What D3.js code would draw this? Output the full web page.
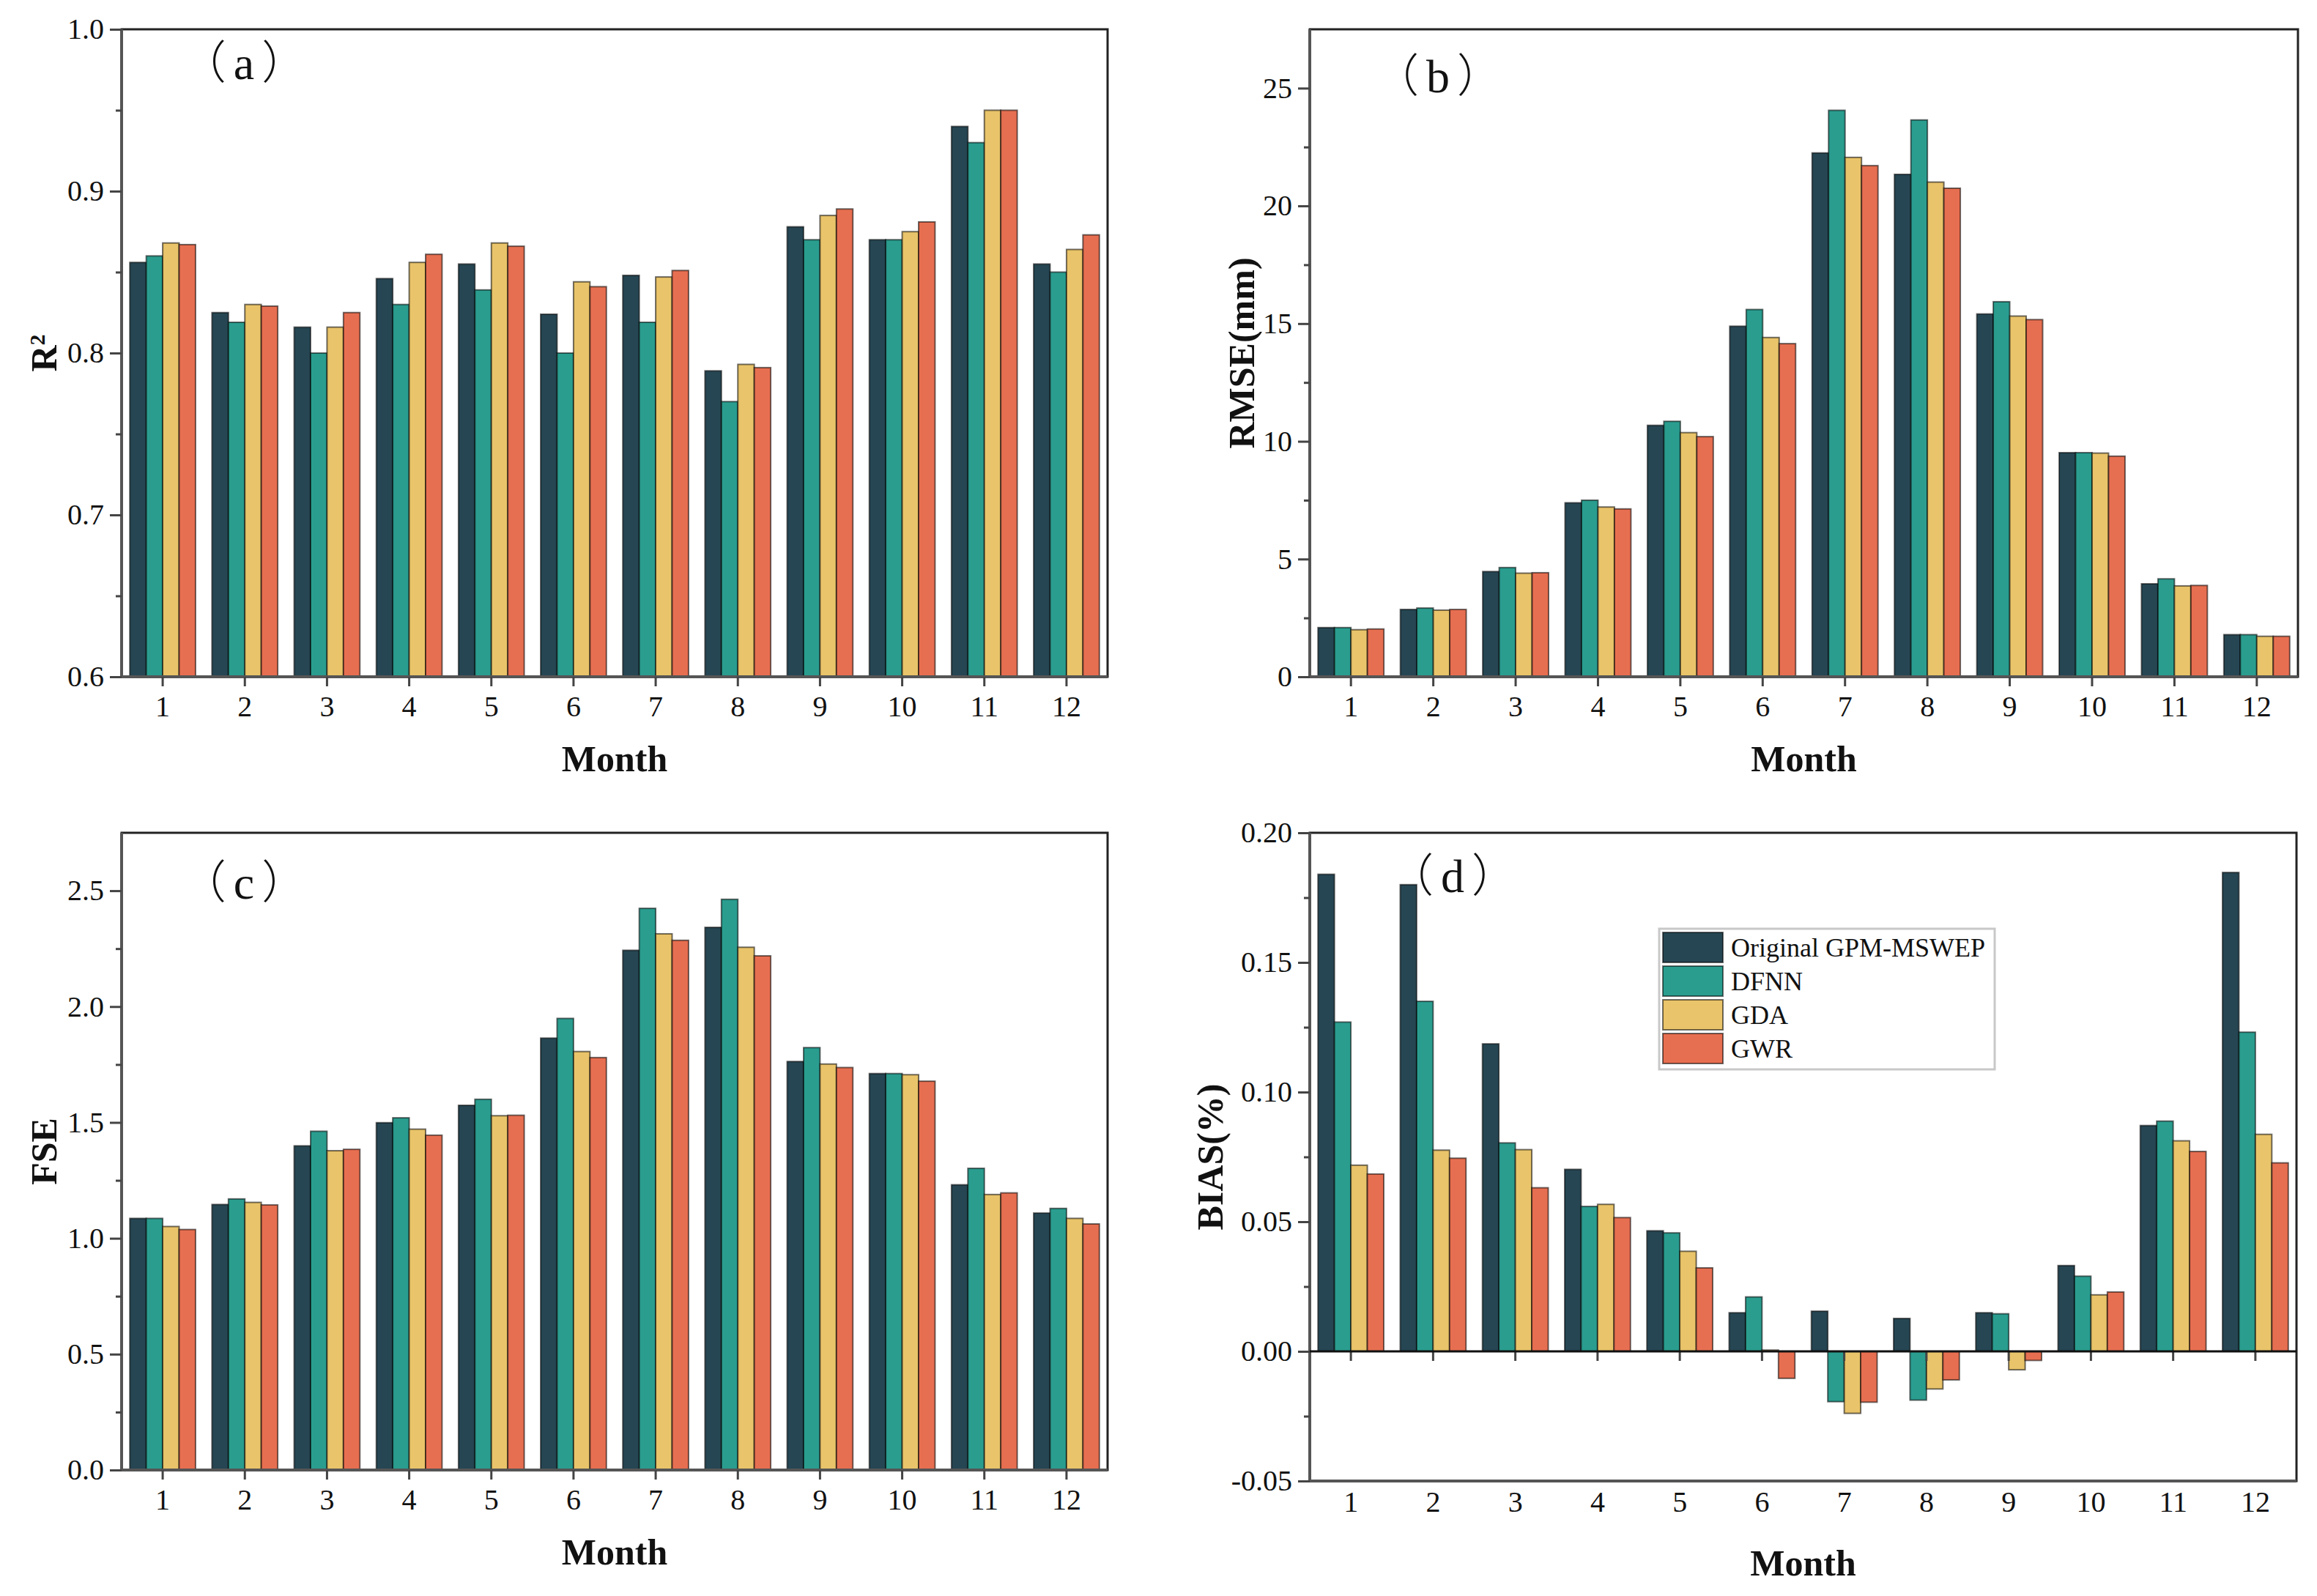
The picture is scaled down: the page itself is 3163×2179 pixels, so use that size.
<!DOCTYPE html>
<html>
<head>
<meta charset="utf-8">
<script src="https://cdn.jsdelivr.net/npm/d3@7"></script>
<style>
  html, body { margin: 0; padding: 0; background: #fff; }
  svg text { font-family: "Liberation Serif", "Times New Roman", serif; fill: #111; }
</style>
</head>
<body>
<svg id="chart" width="3163" height="2179"></svg>
<script>
// 月
var months = ["1", "2", "3", "4", "5", "6", "7", "8", "9", "10", "11", "12"];
var seriesNames = ["Original GPM-MSWEP", "DFNN", "GDA", "GWR"];

// (a) R2
var r2Orig = [0.856, 0.825, 0.816, 0.846, 0.855, 0.824, 0.848, 0.789, 0.878, 0.870, 0.940, 0.855];
var r2Dfnn = [0.860, 0.819, 0.800, 0.830, 0.839, 0.800, 0.819, 0.770, 0.870, 0.870, 0.930, 0.850];
var r2Gda  = [0.868, 0.830, 0.816, 0.856, 0.868, 0.844, 0.847, 0.793, 0.885, 0.875, 0.950, 0.864];
var r2Gwr  = [0.867, 0.829, 0.825, 0.861, 0.866, 0.841, 0.851, 0.791, 0.889, 0.881, 0.950, 0.873];

// (b) RMSE(mm)
var rmseOrig = [2.09, 2.86, 4.47, 7.39, 10.68, 14.89, 22.25, 21.34, 15.41, 9.52, 3.95, 1.79];
var rmseDfnn = [2.09, 2.92, 4.64, 7.50, 10.85, 15.60, 24.06, 23.65, 15.93, 9.52, 4.16, 1.79];
var rmseGda  = [2.00, 2.83, 4.40, 7.21, 10.37, 14.41, 22.06, 21.01, 15.32, 9.50, 3.86, 1.72];
var rmseGwr  = [2.03, 2.86, 4.42, 7.13, 10.20, 14.15, 21.71, 20.75, 15.17, 9.37, 3.88, 1.72];

// (c) FSE
var fseOrig = [1.086, 1.146, 1.399, 1.499, 1.574, 1.864, 2.243, 2.342, 1.763, 1.711, 1.231, 1.109];
var fseDfnn = [1.086, 1.170, 1.462, 1.520, 1.600, 1.949, 2.424, 2.463, 1.823, 1.711, 1.302, 1.129];
var fseGda  = [1.051, 1.155, 1.378, 1.471, 1.529, 1.806, 2.314, 2.256, 1.752, 1.706, 1.189, 1.086];
var fseGwr  = [1.038, 1.144, 1.384, 1.445, 1.531, 1.780, 2.286, 2.219, 1.737, 1.678, 1.196, 1.062];

// (d) BIAS(%)
var biasOrig = [0.184, 0.180, 0.1186, 0.0702, 0.0465, 0.0149, 0.0155, 0.0127, 0.0149, 0.0331, 0.0871, 0.1847];
var biasDfnn = [0.127, 0.135, 0.0804, 0.0559, 0.0457, 0.0210, -0.0194, -0.0188, 0.0145, 0.0290, 0.0888, 0.1231];
var biasGda  = [0.0718, 0.0776, 0.0778, 0.0567, 0.0386, 0.0005, -0.0239, -0.0145, -0.0071, 0.0218, 0.0812, 0.0837];
var biasGwr  = [0.0684, 0.0745, 0.0631, 0.0516, 0.0322, -0.0104, -0.0196, -0.0110, -0.0035, 0.0229, 0.0771, 0.0727];

// y軸の目盛り
var r2Ticks = [0.6, 0.7, 0.8, 0.9, 1.0];
var rmseTicks = [0, 5, 10, 15, 20, 25];
var fseTicks = [0.0, 0.5, 1.0, 1.5, 2.0, 2.5];
var biasTicks = [-0.05, 0.00, 0.05, 0.10, 0.15, 0.20];

var colors = ["#264653", "#2a9d8f", "#e9c46a", "#e76f51"];

var svg = d3.select("#chart");

var panels = [
  { tag: "a", data: [r2Orig, r2Dfnn, r2Gda, r2Gwr], domain: [0.6, 1.0], ticks: r2Ticks, fmt: function(d) { return d.toFixed(1); },
    left: 166, right: 1512, top: 40, bottom: 924, tagX: 333, tagY: 108, yLabel: "R", sup: "2", labelX: 77 },
  { tag: "b", data: [rmseOrig, rmseDfnn, rmseGda, rmseGwr], domain: [0, 27.5], ticks: rmseTicks, fmt: function(d) { return String(d); },
    left: 1788, right: 3137, top: 40, bottom: 924, tagX: 1963, tagY: 126, yLabel: "RMSE(mm)", labelX: 1712 },
  { tag: "c", data: [fseOrig, fseDfnn, fseGda, fseGwr], domain: [0, 2.75], ticks: fseTicks, fmt: function(d) { return d.toFixed(1); },
    left: 166, right: 1512, top: 1137, bottom: 2007, tagX: 333, tagY: 1227, yLabel: "FSE", labelX: 77 },
  { tag: "d", data: [biasOrig, biasDfnn, biasGda, biasGwr], domain: [-0.05, 0.2], ticks: biasTicks, fmt: function(d) { return d.toFixed(2); },
    left: 1788, right: 3135, top: 1137, bottom: 2022, tagX: 1983, tagY: 1218, yLabel: "BIAS(%)", labelX: 1669, zeroAxis: true }
];

panels.forEach(function(p) {
  var x0 = d3.scaleBand().domain(months).range([p.left, p.right]).padding(0);
  var bw = x0.bandwidth();
  var x1 = d3.scaleBand().domain(seriesNames).range([bw * 0.1, bw * 0.9]).padding(0);
  var y = d3.scaleLinear().domain(p.domain).range([p.bottom, p.top]);
  var base = y(Math.max(0, p.domain[0]));

  var g = svg.append("g");

  // 棒グラフ
  seriesNames.forEach(function(name, si) {
    g.append("g")
      .selectAll("rect")
      .data(p.data[si])
      .enter().append("rect")
      .attr("x", function(d, i) { return x0(months[i]) + x1(name); })
      .attr("width", x1.bandwidth())
      .attr("y", function(d) { return d >= 0 ? y(d) : base; })
      .attr("height", function(d) { return Math.abs(y(d) - base); })
      .attr("fill", colors[si])
      .attr("stroke", "rgba(0,0,0,0.55)")
      .attr("stroke-width", 2);
  });

  // 枠
  g.append("rect")
    .attr("x", p.left).attr("y", p.top)
    .attr("width", p.right - p.left).attr("height", p.bottom - p.top)
    .attr("fill", "none").attr("stroke", "#222").attr("stroke-width", 3);
  g.append("line")
    .attr("x1", p.left).attr("x2", p.left).attr("y1", p.top).attr("y2", p.bottom)
    .attr("stroke", "#555").attr("stroke-width", 4);
  g.append("line")
    .attr("x1", p.left).attr("x2", p.right).attr("y1", p.bottom).attr("y2", p.bottom)
    .attr("stroke", "#555").attr("stroke-width", 4);

  // Y軸
  var yAxis = g.append("g")
    .attr("transform", "translate(" + p.left + ",0)")
    .call(d3.axisLeft(y).tickValues(p.ticks).tickFormat(p.fmt).tickSize(16).tickPadding(8));
  var step = p.ticks[1] - p.ticks[0];
  var minor = p.ticks.map(function(t) { return t + step / 2; }).filter(function(t) { return t < p.domain[1]; });
  var yMinor = g.append("g")
    .attr("transform", "translate(" + p.left + ",0)")
    .call(d3.axisLeft(y).tickValues(minor).tickFormat("").tickSize(8));

  // X軸
  var xAxisY = p.zeroAxis ? y(0) : p.bottom;
  var xAxis = g.append("g")
    .attr("transform", "translate(0," + xAxisY + ")")
    .call(d3.axisBottom(x0).tickSize(13).tickPadding(13).tickFormat(p.zeroAxis ? "" : null));
  [yAxis, yMinor, xAxis].forEach(function(a) {
    a.attr("font-family", null);
    a.select(".domain").remove();
    a.selectAll("line").attr("stroke", "#444").attr("stroke-width", 3);
    a.selectAll("text").style("font-size", "40px").attr("fill", "#222");
  });

  if (p.zeroAxis) {
    // 0の線
    g.append("line")
      .attr("x1", p.left).attr("x2", p.right).attr("y1", y(0)).attr("y2", y(0))
      .attr("stroke", "#111").attr("stroke-width", 3);
    var xLabels = g.append("g")
      .attr("transform", "translate(0," + p.bottom + ")")
      .call(d3.axisBottom(x0).tickSize(0).tickPadding(14));
    xLabels.attr("font-family", null);
    xLabels.select(".domain").remove();
    xLabels.selectAll("text").style("font-size", "40px").attr("fill", "#222");
  }

  // パネル記号（全角括弧）
  var tag = g.append("text")
    .attr("x", p.tagX).attr("y", p.tagY)
    .attr("text-anchor", "middle")
    .style("font-size", "62px");
  tag.append("tspan").style("font-family", "'Noto Sans CJK SC', sans-serif").style("font-weight", "300").text("（");
  tag.append("tspan").attr("dx", 10).style("font-size", "64px").text(p.tag);
  tag.append("tspan").attr("dx", 10).style("font-family", "'Noto Sans CJK SC', sans-serif").style("font-weight", "300").text("）");

  // 軸ラベル
  g.append("text")
    .attr("x", (p.left + p.right) / 2).attr("y", p.bottom + 129)
    .attr("text-anchor", "middle")
    .style("font-size", "50px").style("font-weight", "bold")
    .text("Month");

  var yl = g.append("text")
    .attr("transform", "translate(" + p.labelX + "," + ((p.top + p.bottom) / 2) + ") rotate(-90)")
    .attr("text-anchor", "middle")
    .style("font-size", "50px").style("font-weight", "bold")
    .text(p.yLabel);
  if (p.sup) {
    yl.append("tspan").attr("dy", "-0.55em").style("font-size", "30px").text(p.sup);
  }
});

// 凡例
var legend = svg.append("g").attr("transform", "translate(2265,1268)");
legend.append("rect")
  .attr("width", 458).attr("height", 192)
  .attr("fill", "#fff").attr("stroke", "#c8c8c8").attr("stroke-width", 3);
seriesNames.forEach(function(name, i) {
  legend.append("rect")
    .attr("x", 5).attr("y", 5 + i * 46)
    .attr("width", 82).attr("height", 41)
    .attr("fill", colors[i]).attr("stroke", "rgba(0,0,0,0.55)").attr("stroke-width", 2);
  legend.append("text")
    .attr("x", 98).attr("y", 5 + i * 46 + 33)
    .style("font-size", "36px")
    .text(name);
});
</script>
</body>
</html>
